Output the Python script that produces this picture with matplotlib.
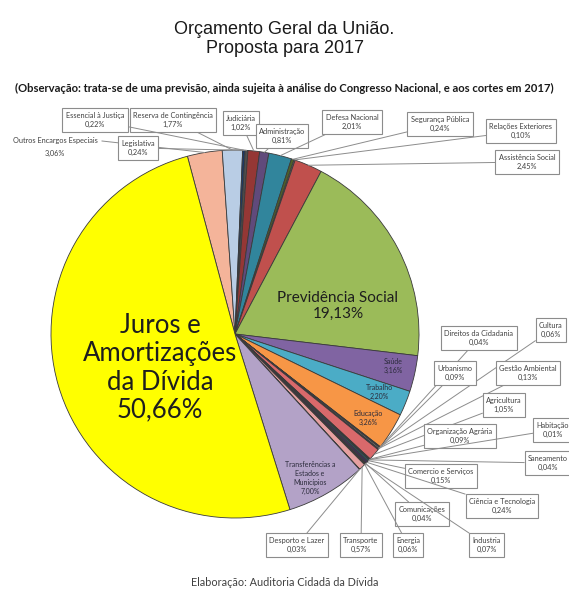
import numpy as np
import matplotlib.pyplot as plt

W, H = 569, 590

TITLE = "Orçamento Geral da União.\nProposta para 2017"
NOTE = ("(Observação: trata-se de uma previsão, ainda sujeita à análise do "
        "Congresso Nacional, e aos cortes em 2017)")
SOURCE = "Elaboração: Auditoria Cidadã da Dívida"

# slices in clockwise order, starting just left of the top of the pie
NAMES = [
    "Outros Encargos Especiais", "Reserva de Contingência", "Essencial à Justiça",
    "Legislativa", "Judiciária", "Administração", "Defesa Nacional",
    "Segurança Pública", "Relações Exteriores", "Assistência Social",
    "Previdência Social", "Saúde", "Trabalho", "Educação",
    "Cultura", "Direitos da Cidadania", "Gestão Ambiental", "Urbanismo",
    "Agricultura", "Organização Agrária", "Habitação", "Saneamento",
    "Comercio e Serviços", "Ciência e Tecnologia", "Comunicações",
    "Industria", "Energia", "Transporte", "Desporto e Lazer",
    "Transferências a Estados e Municípios", "Juros e Amortizações da Dívida",
]
VALUES = [
    3.06, 1.77, 0.22, 0.24, 1.02, 0.81, 2.01, 0.24, 0.10, 2.45,
    19.13, 3.16, 2.20, 3.26,
    0.06, 0.04, 0.13, 0.09, 1.05, 0.09, 0.01, 0.04, 0.15, 0.24,
    0.04, 0.07, 0.06, 0.57, 0.03,
    7.00, 50.66,
]
COLORS = [
    "#f4b49a", "#b9cde5", "#1f3864", "#4f4f4f", "#953735", "#604a7b", "#31859c",
    "#4f6228", "#7f7f7f", "#c0504d",
    "#9bbb59", "#8064a2", "#4bacc6", "#f79646",
    "#1f497d", "#4f6228", "#7f7f7f", "#3f3151", "#d9696b", "#404040",
    "#215968", "#984807", "#215968", "#403151", "#595959", "#632523",
    "#76923c", "#e6a0a0", "#bfbfbf",
    "#b3a2c7", "#ffff00",
]

# label placement (image pixels), kept apart from the data
BOXES = {
    "Essencial à Justiça": (95, 120),
    "Reserva de Contingência": (173, 120),
    "Legislativa": (138, 148),
    "Judiciária": (241, 123),
    "Administração": (282, 136),
    "Defesa Nacional": (352, 122),
    "Segurança Pública": (440, 124),
    "Relações Exteriores": (521, 131),
    "Assistência Social": (527, 162),
    "Direitos da Cidadania": (479, 338),
    "Cultura": (551, 330),
    "Urbanismo": (455, 373),
    "Gestão Ambiental": (528, 373),
    "Agricultura": (504, 405),
    "Organização Agrária": (460, 436),
    "Habitação": (553, 430),
    "Saneamento": (548, 463),
    "Comercio e Serviços": (441, 476),
    "Ciência e Tecnologia": (502, 506),
    "Comunicações": (422, 514),
    "Industria": (487, 545),
    "Energia": (408, 545),
    "Transporte": (361, 545),
    "Desporto e Lazer": (297, 545),
}
INSIDE = {
    "Saúde": ("Saúde", (393, 366), 5),
    "Trabalho": ("Trabalho", (379, 392), 5),
    "Educação": ("Educação", (368, 418), 5),
    "Transferências a Estados e Municípios":
        ("Transferências a\nEstados e\nMunicípios", (310, 478), 5),
    "Previdência Social": ("Previdência Social", (338, 306), 11),
    "Juros e Amortizações da Dívida":
        ("Juros e\nAmortizações\nda Dívida", (160, 368), 18.5),
}

CX, CY, R = 235, 334, 184
FONT = ["Lato", "DejaVu Sans"]


def pct(v):
    return f"{v:.2f}".replace(".", ",") + "%"


def py(y):
    return H - y


fig = plt.figure(figsize=(W / 100, H / 100), dpi=100)
ax = fig.add_axes([0, 0, 1, 1])

wedges, _ = ax.pie(
    VALUES,
    colors=COLORS,
    startangle=105,
    counterclock=False,
    center=(CX, py(CY)),
    radius=R,
    wedgeprops=dict(edgecolor="#3a3a3a", linewidth=0.6),
)
ax.set_xlim(0, W)
ax.set_ylim(0, H)
ax.set_aspect("equal")
ax.set_axis_off()

for w, name, v in zip(wedges, NAMES, VALUES):
    mid = np.deg2rad((w.theta1 + w.theta2) / 2)
    edge = (CX + R * np.cos(mid), py(CY) + R * np.sin(mid))
    if name in BOXES:
        x, y = BOXES[name]
        ax.annotate(
            f"{name}\n{pct(v)}", xy=edge, xytext=(x, py(y)),
            ha="center", va="center", fontsize=5.3, color="#404040",
            family=FONT, linespacing=1.45,
            bbox=dict(boxstyle="square,pad=0.45", fc="white", ec="#8c8c8c", lw=0.8),
            arrowprops=dict(arrowstyle="-", color="#8c8c8c", lw=0.7,
                            shrinkA=0, shrinkB=0),
        )
    elif name == "Outros Encargos Especiais":
        ax.text(55, py(141), name, ha="center", va="center", fontsize=5.3,
                color="#404040", family=FONT)
        ax.text(55, py(153), pct(v), ha="center", va="center", fontsize=5.3,
                color="#404040", family=FONT)
        ax.plot([102, edge[0]], [py(141), edge[1]], color="#8c8c8c", lw=0.7)
    elif name in INSIDE:
        txt, (x, y), fs = INSIDE[name]
        if fs > 9:
            ax.text(x, py(y), f"{txt}\n{pct(v)}", ha="center", va="center",
                    fontsize=fs, color="#1e1e1e", family=FONT,
                    linespacing=1.16)
        else:
            ax.text(x, py(y), f"{txt}\n{pct(v)}", ha="center", va="center",
                    fontsize=fs, color="#2b2b3b", family=FONT,
                    linespacing=1.35)

fig.text(0.5, 1 - 39 / H, TITLE, ha="center", va="center", fontsize=13,
         family="Liberation Sans", color="#1a1a1a", linespacing=1.2)
fig.text(0.5, 1 - 88 / H, NOTE, ha="center", va="center", fontsize=8.1,
         family=FONT, weight="bold", color="#1a1a1a")
fig.text(0.5, 1 - 583 / H, SOURCE, ha="center", va="center", fontsize=7.8,
         family=FONT, color="#404040")

fig.savefig("out.png", dpi=100)
